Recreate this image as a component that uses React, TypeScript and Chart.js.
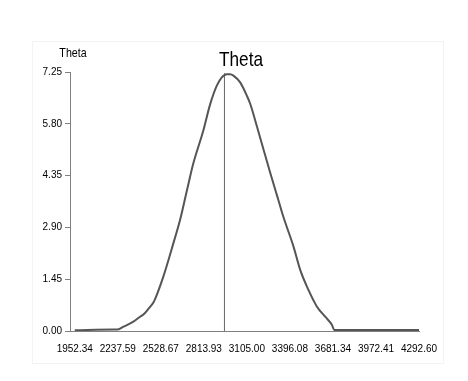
import React, { useEffect, useRef } from "react";
import { Chart, registerables } from "chart.js";

Chart.register(...registerables);

const chartTitle = "Theta";
const yAxisTitle = "Theta";
const xTickLabels = ["1952.34", "2237.59", "2528.67", "2813.93", "3105.00", "3396.08", "3681.34", "3972.41", "4292.60"];
const xTickValues = [1952.34, 2244.87, 2537.41, 2829.94, 3122.47, 3415.0, 3707.54, 4000.07, 4292.6];
const yTickValues = [0, 1.45, 2.9, 4.35, 5.8, 7.25];
const curveX = [1952.3, 2215, 2240, 2283, 2351, 2397, 2419, 2453, 2487, 2499, 2555, 2623, 2669, 2714, 2759, 2827, 2873, 2918, 2952, 2986, 3009, 3031, 3077, 3123, 3145, 3190, 3235, 3281, 3315, 3337, 3371, 3439, 3485, 3541, 3599, 3655, 3701, 3716, 4292.6];
const curveY = [0.02, 0.04, 0.04, 0.12, 0.26, 0.4, 0.46, 0.62, 0.8, 0.9, 1.53, 2.46, 3.12, 3.92, 4.7, 5.62, 6.35, 6.87, 7.1, 7.19, 7.19, 7.15, 6.96, 6.58, 6.36, 5.74, 5.09, 4.43, 3.96, 3.66, 3.19, 2.37, 1.71, 1.15, 0.68, 0.4, 0.17, 0.03, 0.03];
const markerX = 2970;
const markerTop = 7.22;

export default function App() {
  const ref = useRef<HTMLCanvasElement>(null);
  useEffect(() => {
    document.body.style.margin = "0";
    const canvas = ref.current!;
    const decor = {
      id: "decor",
      beforeDraw(chart: any) {
        const ctx = chart.ctx;
        ctx.save();
        ctx.fillStyle = "#ffffff";
        ctx.fillRect(0, 0, chart.width, chart.height);
        ctx.strokeStyle = "#f3f3f3";
        ctx.lineWidth = 1;
        ctx.strokeRect(32.5, 41.5, 411, 322);
        ctx.restore();
      },
      afterDraw(chart: any) {
        const ctx = chart.ctx;
        ctx.save();
        ctx.fillStyle = "#000000";
        ctx.textAlign = "center";
        ctx.textBaseline = "alphabetic";
        ctx.save();
        ctx.translate(241, 66);
        ctx.scale(0.82, 1);
        ctx.font = "21px 'Liberation Sans', Arial, sans-serif";
        ctx.fillText(chartTitle, 0, 0);
        ctx.restore();
        ctx.save();
        ctx.translate(73, 56.5);
        ctx.scale(0.82, 1);
        ctx.font = "13px 'Liberation Sans', Arial, sans-serif";
        ctx.fillText(yAxisTitle, 0, 0);
        ctx.restore();
        ctx.restore();
      },
    };
    const tickFont = { family: "'Liberation Sans', Arial, sans-serif", size: 10 };
    const chart = new Chart(canvas, {
      type: "scatter",
      data: {
        datasets: [
          {
            data: curveX.map((x, i) => ({ x, y: curveY[i] })),
            showLine: true,
            borderColor: "#555555",
            borderWidth: 2,
            pointRadius: 0,
            cubicInterpolationMode: "monotone",
          },
          {
            data: [
              { x: markerX, y: 0 },
              { x: markerX, y: markerTop },
            ],
            showLine: true,
            borderColor: "#666666",
            borderWidth: 1,
            pointRadius: 0,
          },
        ],
      },
      options: {
        animation: false,
        responsive: false,
        layout: { padding: { top: 72, right: 49, left: 0, bottom: 0 } },
        plugins: { legend: { display: false }, title: { display: false }, tooltip: { enabled: false } },
        scales: {
          x: {
            type: "linear",
            min: 1920,
            max: 4292.6,
            afterBuildTicks: (scale: any) => {
              scale.ticks = xTickValues.map((v) => ({ value: v }));
            },
            afterFit: (scale: any) => {
              scale.height = 50;
            },
            ticks: {
              autoSkip: false,
              maxRotation: 0,
              color: "#000000",
              font: tickFont,
              padding: 6,
              callback: (_v: any, i: number) => xTickLabels[i],
            },
            grid: { display: false, drawOnChartArea: false, drawTicks: true, tickLength: 6, color: "#808080" },
            border: { display: true, color: "#808080", width: 1 },
          },
          y: {
            type: "linear",
            min: 0,
            max: 7.25,
            afterBuildTicks: (scale: any) => {
              scale.ticks = yTickValues.map((v) => ({ value: v }));
            },
            afterFit: (scale: any) => {
              scale.width = 70;
            },
            ticks: {
              color: "#000000",
              font: tickFont,
              padding: 3,
              callback: (v: any) => Number(v).toFixed(2),
            },
            grid: { display: true, drawOnChartArea: false, drawTicks: true, tickLength: 5, color: "#808080" },
            border: { display: true, color: "#808080", width: 1 },
          },
        },
      },
      plugins: [decor],
    } as any);
    return () => chart.destroy();
  }, []);
  return <canvas ref={ref} width={468} height={381} style={{ display: "block" }} />;
}
